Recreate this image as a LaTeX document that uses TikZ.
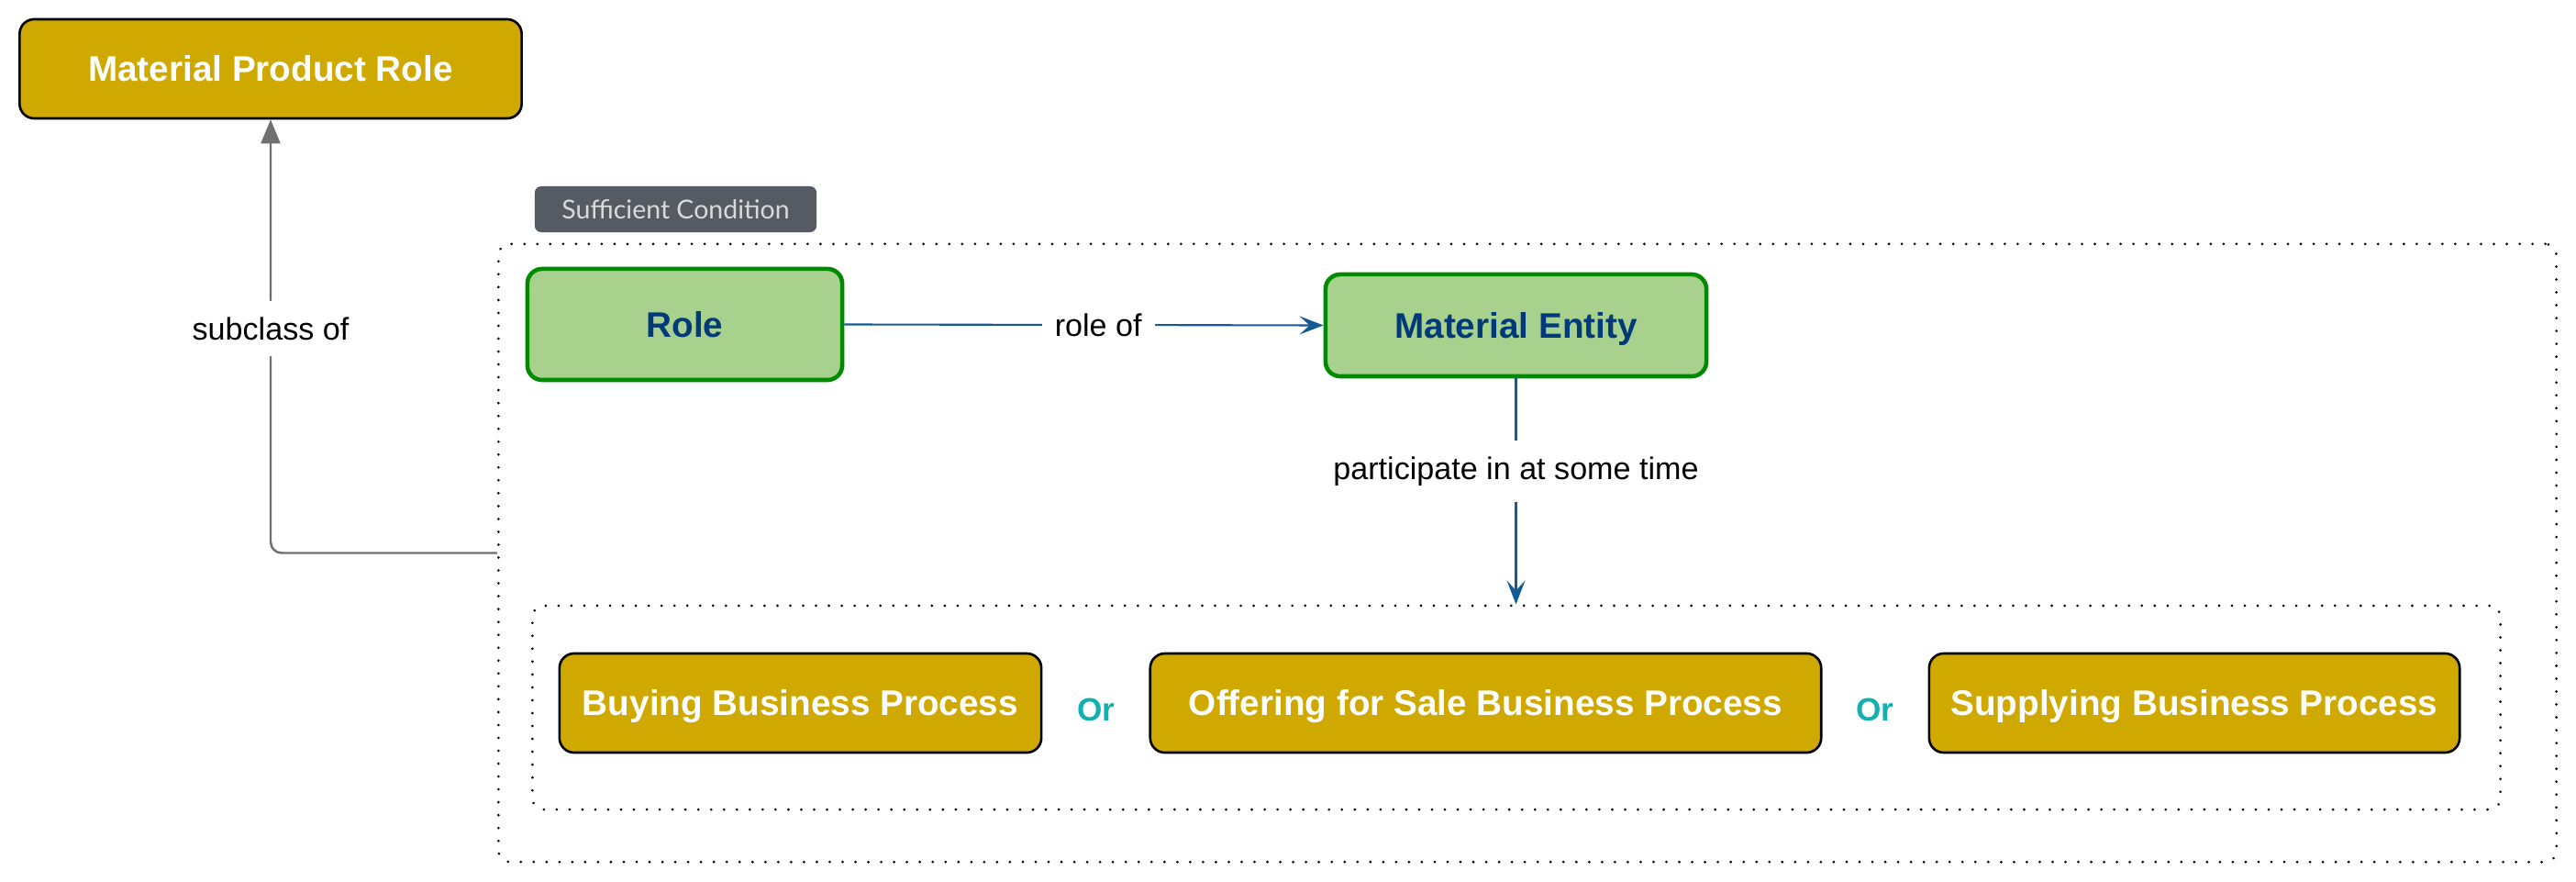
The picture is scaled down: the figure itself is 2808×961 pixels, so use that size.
\documentclass[tikz,border=0pt]{standalone}
\usepackage{fontspec}
\setmainfont{Liberation Sans}
\newfontfamily\tagfont{Lato}
\usetikzlibrary{arrows.meta}
\definecolor{goldfill}{HTML}{CFA800}
\definecolor{greenfill}{HTML}{A9D18E}
\definecolor{greenline}{HTML}{008A00}
\definecolor{navytext}{HTML}{003A78}
\definecolor{blueline}{HTML}{135A96}
\definecolor{grayline}{HTML}{707070}
\definecolor{tagfill}{HTML}{555A63}
\definecolor{tagtext}{HTML}{DADADA}
\definecolor{ortext}{HTML}{12B0B0}
\tikzset{
  goldbox/.style={draw=black, line width=0.75pt, fill=goldfill, rounded corners=0.16cm,
    inner sep=0pt, text=white, text height=7.9pt, text depth=0pt,
    font=\fontsize{11}{13}\selectfont\bfseries},
  greenbox/.style={draw=greenline, line width=1.3pt, fill=greenfill, rounded corners=0.16cm,
    inner sep=0pt, text=navytext, text height=7.9pt, text depth=0pt,
    font=\fontsize{11}{13}\selectfont\bfseries},
  tagbox/.style={fill=tagfill, rounded corners=0.07cm, inner sep=0pt, text=tagtext,
    text height=5.9pt, text depth=0pt, font=\tagfont\fontsize{8.1}{10}\selectfont},
  dotbox/.style={draw=black, line width=0.85pt, dash pattern=on 0.01pt off 3.98pt, line cap=round,
    rounded corners=0.12cm, inner sep=0pt},
  lbl/.style={fill=white, text=black, inner xsep=4pt, inner ysep=5pt,
    font=\fontsize{9.7}{11}\selectfont},
  orlbl/.style={text=ortext, inner sep=0pt, text height=7.2pt, text depth=0pt,
    font=\fontsize{10}{12}\selectfont\bfseries},
  bluearrow/.style={draw=blueline, line width=0.6pt,
    -{Stealth[length=0.26cm, width=0.2cm, inset=0.11cm]}},
  grayarrow/.style={draw=grayline, line width=0.7pt, rounded corners=0.12cm,
    -{Triangle[length=0.26cm, width=0.21cm]}}
}
\begin{document}
\begin{tikzpicture}[x=0.01cm, y=-0.01cm]
\useasboundingbox (0,0) rectangle (2808,961);

% containers
\node[dotbox, minimum width=22.42cm, minimum height=6.73cm] (outer) at (1665,602.5) {};
\node[dotbox, minimum width=21.44cm, minimum height=2.22cm] (inner) at (1653,771) {};

% tag
\node[tagbox, minimum width=3.07cm, minimum height=0.50cm] (tag) at (736.5,228) {Sufficient Condition};

% top class
\node[goldbox, minimum width=5.47cm, minimum height=1.08cm] (mpr) at (295,75) {Material Product Role};

% green boxes
\node[greenbox, minimum width=3.43cm, minimum height=1.21cm] (role) at (746.5,353.5) {Role};
\node[greenbox, minimum width=4.15cm, minimum height=1.11cm] (me) at (1652.5,354.5) {Material Entity};

% processes
\node[goldbox, minimum width=5.25cm, minimum height=1.08cm] (buy) at (872.5,766) {Buying Business Process};
\node[goldbox, minimum width=7.31cm, minimum height=1.08cm] (offer) at (1619.5,766) {Offering for Sale Business Process};
\node[goldbox, minimum width=5.78cm, minimum height=1.08cm] (supply) at (2392,766) {Supplying Business Process};

\node[orlbl] (or1) at (1195,773) {Or};
\node[orlbl] (or2) at (2044,773) {Or};

% connectors
\draw[bluearrow] (role.east) -- node[lbl, pos=0.53] {role of} (me.west);
\draw[bluearrow] (me.south) -- node[lbl, pos=0.41] {participate in at some time} (me.south |- inner.north);
\draw[grayarrow] (outer.west) -| node[lbl, pos=0.759] {subclass of} (mpr.south);
\end{tikzpicture}
\end{document}
